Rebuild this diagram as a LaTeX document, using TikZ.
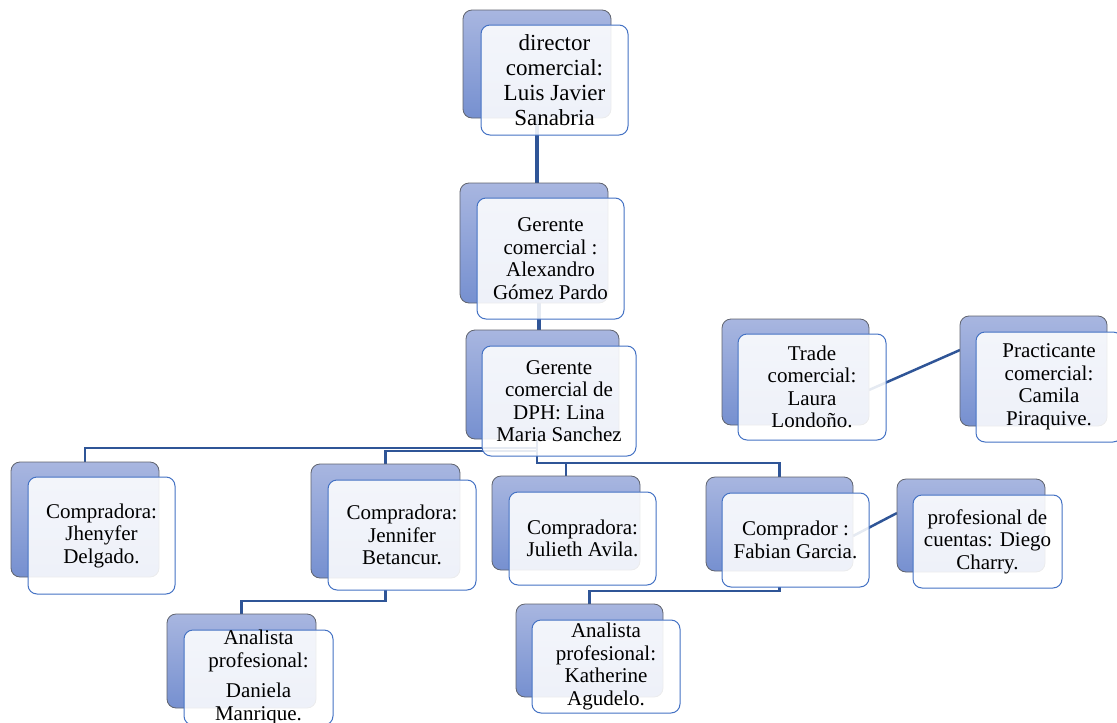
\documentclass[tikz,border=0pt]{standalone}
\usepackage{fontspec}
\setmainfont{Liberation Serif}
\definecolor{connc}{RGB}{47,85,151}
\definecolor{frontline}{RGB}{68,114,196}
\definecolor{backline}{RGB}{95,99,110}
\definecolor{backtop}{RGB}{168,182,224}
\definecolor{backbot}{RGB}{118,144,208}
\pgfdeclarelayer{bg}
\pgfsetlayers{bg,main}
\begin{document}
\begin{tikzpicture}[x=1pt,y=-1pt,
 backbox/.style={draw=backline, line width=0.8pt, rounded corners=9pt, top color=backtop, bottom color=backbot, inner sep=0pt, outer sep=0pt},
 frontbox/.style={draw=frontline, line width=1pt, rounded corners=9pt, fill=white, fill opacity=0.88, text opacity=1, inner sep=0pt, outer sep=0pt, align=center, font=\fontsize{21}{22.5}\selectfont},
 wh/.style 2 args={minimum width=#1pt, minimum height=#2pt},
 link/.style={draw=connc, line width=2.5pt}]
\useasboundingbox (0,0) rectangle (1117,723);
\clip (0,0) rectangle (1117,723);
% director
\node[backbox, wh={148}{108}] (dirB) at (537,64) {};
\node[frontbox, wh={147}{110}, font=\fontsize{23}{25}\selectfont] (dirF) at (554.5,80) {director\\comercial:\\Luis Javier\\Sanabria};
% gerente comercial
\node[backbox, wh={148}{120}] (gcB) at (534,243) {};
\node[frontbox, wh={147}{121}] (gcF) at (550.5,258.5) {Gerente\\comercial :\\Alexandro\\Gómez Pardo};
% gerente DPH
\node[backbox, wh={153}{109}] (dphB) at (542.5,384.5) {};
\node[frontbox, wh={154}{110}] (dphF) at (559,401) {Gerente\\comercial de\\DPH: Lina\\Maria Sanchez};
% Jhenyfer
\node[backbox, wh={148}{115}] (jhB) at (85,519.5) {};
\node[frontbox, wh={147}{117}] (jhF) at (101.5,535.5) {Compradora:\\Jhenyfer\\Delgado.};
% Jennifer
\node[backbox, wh={149}{114}] (jbB) at (385.5,521) {};
\node[frontbox, wh={148}{110}] (jbF) at (402,535) {Compradora:\\Jennifer\\Betancur.};
% Julieth
\node[backbox, wh={148}{94}] (jaB) at (566,523) {};
\node[frontbox, wh={147}{93}] (jaF) at (582.5,538.5) {Compradora:\\Julieth Avila.};
% Fabian
\node[backbox, wh={147}{94}] (fgB) at (779.5,524) {};
\node[frontbox, wh={147}{94}] (fgF) at (795.5,540) {Comprador :\\Fabian Garcia.};
% Diego
\node[backbox, wh={148}{93}] (dcB) at (971,525.5) {};
\node[frontbox, wh={149}{93}] (dcF) at (987.5,541.5) {profesional de\\cuentas: Diego\\Charry.};
% Trade
\node[backbox, wh={147}{106}] (tcB) at (795.5,372) {};
\node[frontbox, wh={148}{106}] (tcF) at (812,387) {Trade\\comercial:\\Laura\\Londoño.};
% Practicante
\node[backbox, wh={147}{110}] (pcB) at (1033.5,371) {};
\node[frontbox, wh={146}{110}] (pcF) at (1049,387) {Practicante\\comercial:\\Camila\\Piraquive.};
% Daniela
\node[backbox, wh={149}{94}] (dmB) at (241.5,661) {};
\node[frontbox, wh={149}{95}] (dmF) at (258.5,677.5) {Analista\\profesional:\\[8pt]Daniela\\Manrique.};
% Katherine
\node[backbox, wh={147}{93}] (kaB) at (589.5,650.5) {};
\node[frontbox, wh={148}{93}] (kaF) at (606,666.5) {Analista\\profesional:\\Katherine\\Agudelo.};
% connectors
\begin{pgfonlayer}{bg}
\draw[link] ([xshift=-1pt]dirB.south) -- ([xshift=-1pt]dirB.south |- gcB.north);
\draw[link] ([xshift=1pt]dirB.south) -- ([xshift=1pt]dirB.south |- gcB.north);
\draw[link] ([xshift=4pt]gcB.south) -- ([xshift=4pt]gcB.south |- dphB.north);
\draw[link] ([xshift=6pt]gcB.south) -- ([xshift=6pt]gcB.south |- dphB.north);
\draw[link] ([xshift=-5.5pt]dphB.south) -- ++(0,9) -| (jhB.north);
\draw[link] ([xshift=-5.5pt]dphB.south) -- ++(0,12) -| (jbB.north);
\draw[link] ([xshift=-5.5pt]dphB.south) -- ++(0,24) -| (jaB.north);
\draw[link] ([xshift=-5.5pt]dphB.south) -- ++(0,24) -| (fgB.north);
\draw[link] (jbB.south |- jbF.south) -- ++(0,11) -| (dmB.north);
\draw[link] (fgB.south |- fgF.south) -- ++(0,4) -| (kaB.north);
\draw[link] ([yshift=-12pt]fgB.east) -- ([yshift=12.5pt]dcB.west);
\draw[link] ([yshift=-18pt]tcB.east) -- ([yshift=21pt]pcB.west);
\end{pgfonlayer}
\end{tikzpicture}
\end{document}
